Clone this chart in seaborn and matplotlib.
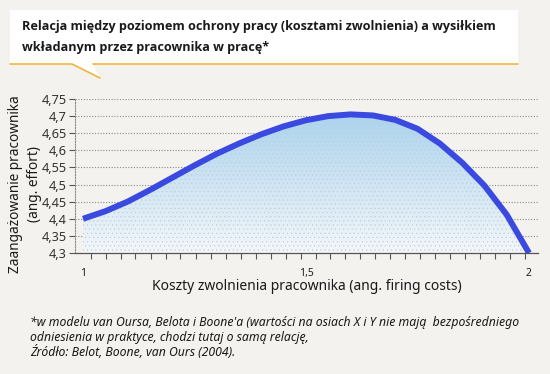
import numpy as np
import pandas as pd
import matplotlib
matplotlib.use("Agg")
import matplotlib.pyplot as plt
import matplotlib.patches as mpatches
from matplotlib.ticker import FuncFormatter
import seaborn as sns

# Data
firing_costs = [1.00, 1.05, 1.10, 1.15, 1.20, 1.25, 1.30, 1.35, 1.40, 1.45, 1.50,
                1.55, 1.60, 1.65, 1.70, 1.75, 1.80, 1.85, 1.90, 1.95, 2.00]
effort = [4.400, 4.422, 4.450, 4.484, 4.520, 4.556, 4.590, 4.620, 4.647, 4.670, 4.688,
          4.700, 4.705, 4.702, 4.689, 4.663, 4.620, 4.564, 4.497, 4.412, 4.300]
y_ticks = [4.3, 4.35, 4.4, 4.45, 4.5, 4.55, 4.6, 4.65, 4.7, 4.75]
x_ticks = [1, 1.5, 2]

title = "Relacja między poziomem ochrony pracy (kosztami zwolnienia) a wysiłkiem\nwkładanym przez pracownika w pracę*"
footnote = ("*w modelu van Oursa, Belota i Boone'a (wartości na osiach X i Y nie mają  bezpośredniego\n"
            "odniesienia w praktyce, chodzi tutaj o samą relację,\n"
            "Źródło: Belot, Boone, van Ours (2004).")

df = pd.DataFrame({"x": firing_costs, "y": effort})

sns.set_theme(style="white")
plt.rcParams["font.family"] = ["Noto Sans", "DejaVu Sans"]
plt.rcParams["hatch.linewidth"] = 0.4

bg = "#f4f2ee"
orange = "#f2b53a"
fig = plt.figure(figsize=(5.5, 3.74), dpi=100, facecolor=bg)
ax = fig.add_axes([75 / 550, 121 / 374, 463 / 550, 154 / 374])
ax.set_facecolor(bg)

# title speech bubble
W, H = 550, 374
box = mpatches.Rectangle((10 / W, 1 - 64 / H), 508 / W, 54 / H,
                         transform=fig.transFigure, facecolor="white",
                         edgecolor="none", zorder=0)
fig.patches.append(box)
tail = mpatches.Polygon([(72 / W, 1 - 64 / H), (100 / W, 1 - 78 / H), (93 / W, 1 - 64 / H)],
                        closed=True, transform=fig.transFigure, facecolor="white", edgecolor="none")
fig.patches.append(tail)
fig.add_artist(plt.Line2D([10 / W, 72 / W, 100 / W], [1 - 64 / H, 1 - 64 / H, 1 - 78 / H],
                          transform=fig.transFigure, color=orange, lw=1.2))
fig.add_artist(plt.Line2D([93 / W, 518 / W], [1 - 64 / H] * 2,
                          transform=fig.transFigure, color=orange, lw=1.2))
fig.text(22 / W, 1 - 20 / H, title, ha="left", va="top", fontsize=9.1,
         family=["Open Sans", "DejaVu Sans"], fontweight="bold",
         color="#1a1a1a", linespacing=1.75)

# gradient fill under the curve
xlim = (1 - 8 / 446, 2 + 9 / 446)
ax.set_xlim(*xlim)
ax.set_ylim(4.3, 4.75)
poly = ax.fill_between(df["x"], df["y"], 4.3, facecolor="none", edgecolor="none")
grad = np.linspace(0, 1, 256).reshape(-1, 1)
cmap = matplotlib.colors.LinearSegmentedColormap.from_list("g", ["#f3f7fa", "#a9d3ef"])
img = ax.imshow(grad, extent=[1, 2, 4.3, 4.71], origin="lower", aspect="auto",
                cmap=cmap, zorder=1)
img.set_clip_path(poly.get_paths()[0], transform=ax.transData)
ax.fill_between(df["x"], df["y"], 4.3, facecolor="none", edgecolor="#c5ccd3",
                hatch="....", linewidth=0, zorder=1.5)
ax.set_xlim(*xlim)
ax.set_ylim(4.3, 4.75)

sns.lineplot(data=df, x="x", y="y", ax=ax, color="#3a4ae0", linewidth=4.3,
             solid_joinstyle="round", solid_capstyle="butt", zorder=3)

# axes styling
for s in ["top", "right"]:
    ax.spines[s].set_visible(False)
ax.spines["bottom"].set_color("#555555")
ax.spines["bottom"].set_linewidth(0.9)
ax.spines["left"].set_color("#888888")
ax.spines["left"].set_linestyle((0, (1, 1.5)))
ax.spines["left"].set_linewidth(0.8)
ax.set_yticks(y_ticks)
ax.set_xticks(x_ticks)
ax.set_xticks(1 + (np.arange(30) + 0.5) * 15 / 446, minor=True)
comma = FuncFormatter(lambda v, p: f"{v:g}".replace(".", ","))
ax.xaxis.set_major_formatter(comma)
ax.yaxis.set_major_formatter(comma)
ax.tick_params(axis="x", which="major", bottom=False, labelsize=7.5, pad=5,
               labelcolor="#222222")
ax.tick_params(axis="x", which="minor", bottom=True, direction="out", length=4,
               width=0.8, color="#555555")
ax.tick_params(axis="y", left=True, direction="out", length=4, width=0.8,
               color="#555555", labelsize=9.2, pad=2, labelcolor="#333333")
for yv in y_ticks[1:]:
    ax.axhline(yv, color="#8a8a8a", lw=0.8, ls=(0, (1, 1.5)), zorder=0.5)

ax.set_xlabel("Koszty zwolnienia pracownika (ang. firing costs)", fontsize=10,
              color="#1a1a1a", labelpad=0)
ax.set_ylabel("Zaangażowanie pracownika\n(ang. effort)", fontsize=9.8,
              color="#1a1a1a", linespacing=1.35)
ax.yaxis.set_label_coords(-33 / 463, 0.45)

fig.text(30 / W, 1 - 316 / H, footnote, ha="left", va="top", fontsize=8.8,
         style="italic", color="#1a1a1a", linespacing=1.15)

fig.savefig("out.png", dpi=100, facecolor=bg)
